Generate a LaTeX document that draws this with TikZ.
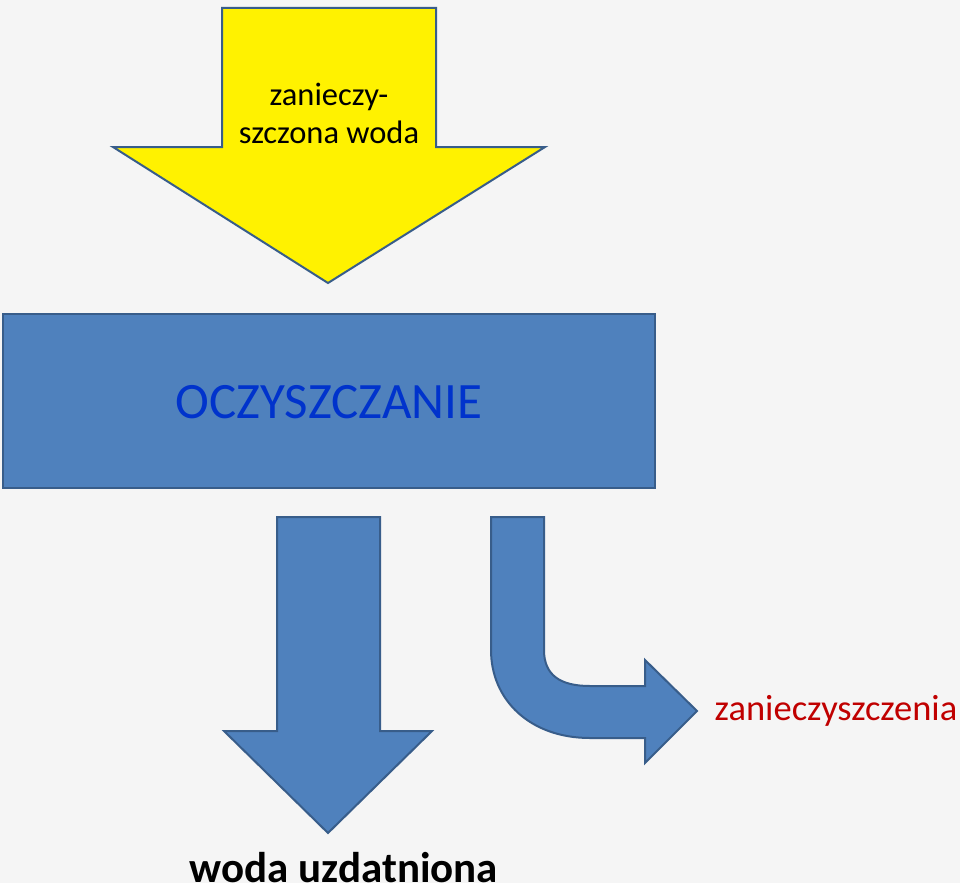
\documentclass[tikz,border=0pt]{standalone}
\usepackage{fontspec}
\setmainfont{Carlito}
\definecolor{bg}{HTML}{F5F5F5}
\definecolor{bfill}{HTML}{4F81BD}
\definecolor{bline}{HTML}{385D8A}
\definecolor{ctext}{HTML}{0033CC}
\definecolor{rtext}{HTML}{C00000}
\tikzset{shp/.style={draw=bline,line width=2pt,line join=miter},
lbl/.style={inner sep=0pt,align=center}}
\begin{document}
\begin{tikzpicture}[x=1pt,y=-1pt]
\fill[bg] (0,0) rectangle (960,883);
\useasboundingbox (0,0) rectangle (960,883);
\draw[shp,fill=yellow] (222,8) -- (436,8) -- (436,147) -- (545,147) -- (328,283) -- (113,147) -- (222,147) -- cycle;
\node[lbl,font=\fontsize{32.5}{38}\selectfont] (in) at (329,113) {zanieczy-\\szczona woda};
\draw[shp,fill=bfill] (3,314) rectangle (655,488);
\node[lbl,text=ctext,font=\fontsize{51}{56}\selectfont] (proc) at (329,402) {OCZYSZCZANIE};
\draw[shp,fill=bfill] (277,517) -- (380,517) -- (380,731) -- (432,731) -- (328,833) -- (224,731) -- (277,731) -- cycle;
\draw[shp,fill=bfill] (491,517) -- (544,517) -- (544,650) .. controls (544,675) and (560,686) .. (590,686) -- (645,686) -- (645,660) -- (697,711) -- (645,763) -- (645,738) -- (590,738) .. controls (530,738) and (491,700) .. (491,650) -- cycle;
\node[lbl,text=rtext,font=\fontsize{36.5}{42}\selectfont] (waste) at (836,711) {zanieczyszczenia};
\node[lbl,font=\bfseries\fontsize{43}{48}\selectfont] (out) at (344,868) {woda uzdatniona};
\end{tikzpicture}
\end{document}
